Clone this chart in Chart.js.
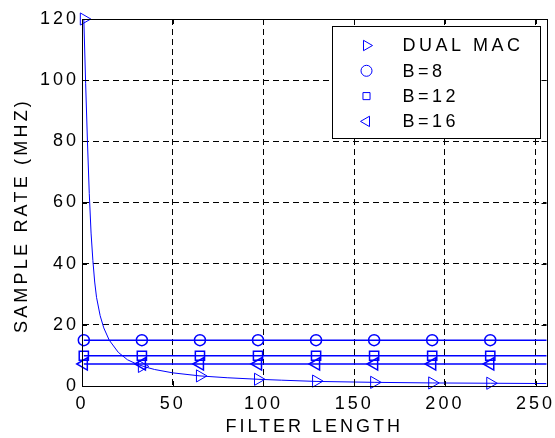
<!DOCTYPE html>
<html>
<head>
<meta charset="utf-8">
<script src="https://cdn.jsdelivr.net/npm/chart.js@4.4.1/dist/chart.umd.min.js"></script>
<style>
  html, body { margin: 0; padding: 0; background: #fff; }
  #wrap { width: 555px; height: 438px; }
</style>
</head>
<body>
<div id="wrap"><canvas id="rateChart"></canvas></div>
<script>
// ---- Data ----
const xTicks = [0, 50, 100, 150, 200, 250];
const yTicks = [0, 20, 40, 60, 80, 100, 120];

// dual MAC curve, filter length vs sample rate
const curveLength = [1, 2, 3, 4, 5, 6, 7, 8, 10, 12, 15, 20, 25, 30, 35, 40, 50, 65, 80, 97, 110, 129, 150, 161, 193, 225, 256];
const curveRate = [120, 99, 80, 63, 50, 41, 34, 29, 23, 19, 15, 11, 8.6, 7.2, 6.2, 5.4, 4.3, 3.3, 2.7, 2.2, 1.9, 1.5, 1.3, 1.2, 1.0, 0.9, 0.8];

// marker positions
const markerLength = [1, 33, 65, 97, 129, 161, 193, 225];
const dualMacRate = [120, 6.4, 3.3, 2.2, 1.6, 1.2, 1.0, 0.9];

// bit-serial lines run to the right edge
const lineLength = [1, 33, 65, 97, 129, 161, 193, 225, 256];
const b8Rate = [15, 15, 15, 15, 15, 15, 15, 15, 15];
const b12Rate = [9.9, 9.9, 9.9, 9.9, 9.9, 9.9, 9.9, 9.9, 9.9];
const b16Rate = [7.2, 7.2, 7.2, 7.2, 7.2, 7.2, 7.2, 7.2, 7.2];

const seriesLabels = ["DUAL MAC", "B=8", "B=12", "B=16"];
const yTitle = "SAMPLE RATE (MHZ)";
const xTitle = "FILTER LENGTH";

const BLUE = "#0000ff";
const FONT = "'Liberation Sans', Arial, Helvetica, sans-serif";

const pts = (xs, ys) => xs.map((x, i) => ({ x: x, y: ys[i] }));
// no marker on the last (edge) point of each line
const markerRadius = r => lineLength.map((_, i) => (i === lineLength.length - 1 ? 0 : r));

// ---- letter spacing like the original print ----
const spacingPlugin = {
  id: "spacing",
  beforeUpdate: c => { c.ctx.letterSpacing = "3px"; },
  beforeLayout: c => { c.ctx.letterSpacing = "3px"; },
  beforeDraw: c => { c.ctx.letterSpacing = "3px"; },
};

// ---- frame, inner ticks, y title ----
const framePlugin = {
  id: "frame",
  afterDatasetsDraw(c) {
    const { ctx, chartArea: a, scales } = c;
    ctx.save();
    ctx.strokeStyle = "#000";
    ctx.lineWidth = 1;
    ctx.beginPath();
    xTicks.forEach(v => {
      const px = Math.round(scales.x.getPixelForValue(v)) + 0.5;
      ctx.moveTo(px, a.bottom); ctx.lineTo(px, a.bottom - 5);
      ctx.moveTo(px, a.top); ctx.lineTo(px, a.top + 5);
    });
    yTicks.forEach(v => {
      const py = Math.round(scales.y.getPixelForValue(v)) + 0.5;
      ctx.moveTo(a.left, py); ctx.lineTo(a.left + 5, py);
      ctx.moveTo(a.right, py); ctx.lineTo(a.right - 5, py);
    });
    ctx.stroke();
    ctx.strokeRect(Math.round(a.left) + 0.5, Math.round(a.top) + 0.5,
      Math.round(a.right - a.left), Math.round(a.bottom - a.top));

    // y title, a bit below the centre as in the print
    ctx.translate(22, (a.top + a.bottom) / 2 + 13);
    ctx.rotate(-Math.PI / 2);
    ctx.font = "18px " + FONT;
    ctx.letterSpacing = "3.2px";
    ctx.textAlign = "center";
    ctx.textBaseline = "middle";
    ctx.fillStyle = "#000";
    ctx.fillText(yTitle, 0, 0);
    ctx.restore();
  },
};

// ---- legend box inside the axes ----
const legendPlugin = {
  id: "boxLegend",
  afterDraw(c) {
    const { ctx, chartArea: a } = c;
    const w = 208, h = 112;
    const x0 = Math.round(a.right - 7 - w) + 0.5;
    const y0 = Math.round(a.top + 7) + 0.5;
    ctx.save();
    ctx.fillStyle = "#fff";
    ctx.fillRect(x0, y0, w, h);
    ctx.strokeStyle = "#000";
    ctx.lineWidth = 1;
    ctx.strokeRect(x0, y0, w, h);
    const styles = [
      { style: "triangle", rot: 90, r: 6 },
      { style: "circle", rot: 0, r: 5.5 },
      { style: "rect", rot: 0, r: 5 },
      { style: "triangle", rot: -90, r: 6 },
    ];
    ctx.font = "18px " + FONT;
    ctx.letterSpacing = "3.5px";
    ctx.textBaseline = "middle";
    seriesLabels.forEach((label, i) => {
      const cy = y0 + 19 + i * 25.3;
      ctx.strokeStyle = BLUE;
      ctx.fillStyle = "rgba(0,0,0,0)";
      ctx.lineWidth = 1;
      Chart.helpers.drawPoint(ctx, {
        pointStyle: styles[i].style, rotation: styles[i].rot,
        radius: styles[i].r, borderWidth: 1,
      }, x0 + 34, cy);
      ctx.fillStyle = "#000";
      ctx.fillText(label, x0 + 70, cy + 1);
    });
    ctx.restore();
  },
};

const initRateChart = () => {
  const ctx = document.getElementById("rateChart").getContext("2d");
  new Chart(ctx, {
    type: "scatter",
    data: {
      datasets: [
        {
          label: "curve",
          data: pts(curveLength, curveRate),
          showLine: true,
          borderColor: BLUE,
          borderWidth: 1,
          pointRadius: 0,
          tension: 0,
        },
        {
          label: seriesLabels[0],
          data: pts(markerLength, dualMacRate),
          showLine: false,
          pointStyle: "triangle",
          rotation: 90,
          pointRadius: 7,
          borderColor: BLUE,
          backgroundColor: "transparent",
          pointBorderWidth: 1,
          clip: false,
        },
        {
          label: seriesLabels[1],
          data: pts(lineLength, b8Rate),
          showLine: true,
          borderColor: BLUE,
          borderWidth: 1.5,
          pointStyle: "circle",
          pointRadius: markerRadius(5.5),
          backgroundColor: "transparent",
          pointBorderWidth: 1.5,
          clip: false,
        },
        {
          label: seriesLabels[2],
          data: pts(lineLength, b12Rate),
          showLine: true,
          borderColor: BLUE,
          borderWidth: 1.5,
          pointStyle: "rect",
          pointRadius: markerRadius(6.5),
          backgroundColor: "transparent",
          pointBorderWidth: 1.5,
          clip: false,
        },
        {
          label: seriesLabels[3],
          data: pts(lineLength, b16Rate),
          showLine: true,
          borderColor: BLUE,
          borderWidth: 1.5,
          pointStyle: "triangle",
          rotation: -90,
          pointRadius: markerRadius(7),
          backgroundColor: "transparent",
          pointBorderWidth: 1.5,
          clip: false,
        },
      ],
    },
    options: {
      responsive: true,
      maintainAspectRatio: false,
      animation: false,
      devicePixelRatio: 1,
      layout: { padding: { top: 19, right: 7, left: 0, bottom: 0 } },
      plugins: {
        legend: { display: false },
        tooltip: { enabled: false },
      },
      scales: {
        x: {
          type: "linear",
          min: 0,
          max: 256,
          afterBuildTicks: s => { s.ticks = xTicks.map(v => ({ value: v })); },
          afterFit: s => { s.height = 52; s.paddingLeft = 0; s.paddingRight = 0; },
          grid: { color: "#000", lineWidth: 1, drawTicks: false },
          border: { display: true, color: "#000", dash: [6, 4] },
          ticks: { color: "#000", padding: 7, maxRotation: 0, font: { family: FONT, size: 18 } },
          title: {
            display: true,
            text: xTitle,
            color: "#000",
            font: { family: FONT, size: 18 },
            padding: { top: 2, bottom: 0 },
          },
        },
        y: {
          min: 0,
          max: 120,
          afterBuildTicks: s => { s.ticks = yTicks.map(v => ({ value: v })); },
          afterFit: s => { s.width = 82; },
          grid: { color: "#000", lineWidth: 1, drawTicks: false },
          border: { display: true, color: "#000", dash: [6, 4] },
          ticks: { color: "#000", padding: 3, font: { family: FONT, size: 18 } },
          title: { display: false },
        },
      },
    },
    plugins: [spacingPlugin, framePlugin, legendPlugin],
  });
};

window.addEventListener("DOMContentLoaded", initRateChart);
</script>
</body>
</html>
